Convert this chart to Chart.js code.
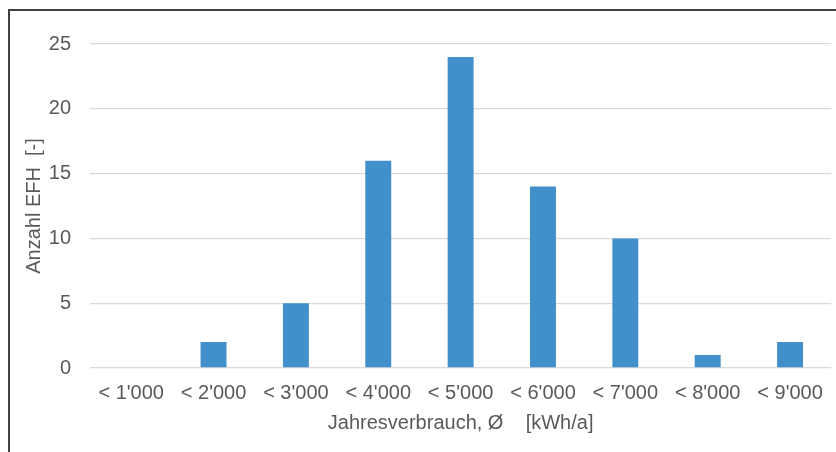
<!DOCTYPE html>
<html>
<head>
<meta charset="utf-8">
<script src="https://cdn.jsdelivr.net/npm/chart.js@4"></script>
<style>
  html, body { margin: 0; padding: 0; background: #fff; overflow: hidden; }
  #wrap { position: relative; width: 836px; height: 452px; }
  #frame {
    position: absolute; left: 8px; top: 9px; width: 900px; height: 500px;
    border-left: 2px solid #404040; border-top: 2px solid #404040;
    pointer-events: none;
  }
  canvas { position: absolute; left: 0; top: 0; }
</style>
</head>
<body>
<div id="wrap">
  <canvas id="c" width="836" height="452"></canvas>
  <div id="frame"></div>
</div>
<script>
// Verbrauchsklassen (Jahresverbrauch) und Anzahl Einfamilienhäuser je Klasse
const categories = ["< 1'000", "< 2'000", "< 3'000", "< 4'000", "< 5'000", "< 6'000", "< 7'000", "< 8'000", "< 9'000"];
const anzahlEFH = [0, 2, 5, 16, 24, 14, 10, 1, 2];
const yTicks = [0, 5, 10, 15, 20, 25];

const textColor = '#595959';
const fontFamily = '"Liberation Sans", Arial, sans-serif';

new Chart(document.getElementById('c'), {
  type: 'bar',
  data: {
    labels: categories,
    datasets: [{
      data: anzahlEFH,
      backgroundColor: '#4190CB',
      borderWidth: 0,
      categoryPercentage: 1,
      barPercentage: 0.315
    }]
  },
  options: {
    responsive: false,
    animation: false,
    events: [],
    layout: { padding: { left: 0, right: 3, top: 44, bottom: 0 } },
    plugins: { legend: { display: false }, tooltip: { enabled: false } },
    scales: {
      x: {
        grid: { display: false, drawTicks: false },
        border: { display: false },
        ticks: {
          color: textColor,
          font: { family: fontFamily, size: 20 },
          padding: 13,
          maxRotation: 0,
          autoSkip: false
        },
        title: {
          display: true,
          text: 'Jahresverbrauch, Ø    [kWh/a]',
          color: textColor,
          font: { family: fontFamily, size: 20 },
          padding: { top: 0, bottom: 17 }
        },
        afterFit: (s) => { s.height = 84; }
      },
      y: {
        min: 0,
        max: 25,
        afterBuildTicks: (s) => { s.ticks = yTicks.map(v => ({ value: v })); },
        grid: { color: '#D9D9D9', lineWidth: 1.3, drawTicks: false },
        border: { display: false },
        ticks: {
          color: textColor,
          font: { family: fontFamily, size: 20 },
          padding: 19
        },
        title: {
          display: true,
          text: 'Anzahl EFH  [-]',
          color: textColor,
          font: { family: fontFamily, size: 20 },
          padding: { top: 22, bottom: 0 }
        },
        afterFit: (s) => { s.width = 90; }
      }
    }
  }
});
</script>
</body>
</html>
